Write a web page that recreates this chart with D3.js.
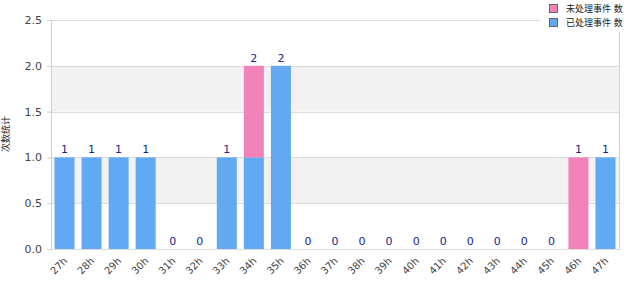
<!DOCTYPE html>
<html>
<head>
<meta charset="utf-8">
<script src="https://cdn.jsdelivr.net/npm/d3@7"></script>
<style>
  body { margin: 0; background: #fff; }
  text { font-family: "DejaVu Sans", "Noto Sans CJK SC", sans-serif; }
</style>
</head>
<body>
<svg id="chart"></svg>
<script>
// data
var categories = ["27h","28h","29h","30h","31h","32h","33h","34h","35h","36h","37h",
                  "38h","39h","40h","41h","42h","43h","44h","45h","46h","47h"];
var blueValues = [1,1,1,1,0,0,1,1,2,0,0,0,0,0,0,0,0,0,0,0,1];
var pinkValues = [0,0,0,0,0,0,0,1,0,0,0,0,0,0,0,0,0,0,0,1,0];
var yTicks = [0, 0.5, 1, 1.5, 2, 2.5];
var seriesNames = ["已处理事件 数", "未处理事件 数"];

var width = 630, height = 300;
var plotLeft = 51, plotRight = 619, plotTop = 20, plotBottom = 249;
var blue = "#62a9f4", pink = "#f283ba";

var svg = d3.select("#chart").attr("width", width).attr("height", height);

var x = d3.scaleBand().domain(categories).range([plotLeft, plotRight]).paddingInner(0.26).paddingOuter(0.13);
var y = d3.scaleLinear().domain([0, 2.5]).range([plotBottom, plotTop]);

// alternating bands
for (var i = 0; i < yTicks.length - 1; i++) {
  if (i % 2 == 1) {
    svg.append("rect")
       .attr("x", plotLeft).attr("width", plotRight - plotLeft)
       .attr("y", y(yTicks[i + 1])).attr("height", y(yTicks[i]) - y(yTicks[i + 1]))
       .attr("fill", "#f2f2f2");
  }
}

// grid lines
svg.append("g").selectAll("line").data(yTicks).enter().append("line")
   .attr("x1", plotLeft).attr("x2", plotRight)
   .attr("y1", function(d){ return Math.round(y(d)) + 0.5; })
   .attr("y2", function(d){ return Math.round(y(d)) + 0.5; })
   .attr("stroke", "#dcdcdc");

// frame
svg.append("line").attr("x1", plotLeft + 0.5).attr("x2", plotLeft + 0.5).attr("y1", plotTop).attr("y2", plotBottom + 1).attr("stroke", "#d0d0d0");
svg.append("line").attr("x1", plotRight + 0.5).attr("x2", plotRight + 0.5).attr("y1", plotTop).attr("y2", plotBottom + 1).attr("stroke", "#d0d0d0");

// y axis
var yAxis = d3.axisLeft(y).tickValues(yTicks).tickSize(4).tickFormat(d3.format(".1f"));
var ya = svg.append("g").attr("transform", "translate(" + plotLeft + ",0)").call(yAxis);
ya.select(".domain").remove();
ya.selectAll("line").attr("stroke", "#d0d0d0");
ya.selectAll("text").attr("fill", "#444").style("font-size", "11px").attr("x", -9);

// x axis
var xAxis = d3.axisBottom(x).tickSize(0);
var xa = svg.append("g").attr("transform", "translate(0," + plotBottom + ")").call(xAxis);
xa.select(".domain").remove();
xa.selectAll("text")
  .attr("fill", "#444").style("font-size", "10px")
  .attr("text-anchor", "end")
  .attr("dy", "0.35em")
  .attr("transform", "translate(1,10) rotate(-45)")
  .attr("y", 0).attr("x", 0);

// stacked bars
var rows = categories.map(function(c, i){ return { cat: c, blue: blueValues[i], pink: pinkValues[i] }; });
var stack = d3.stack().keys(["blue", "pink"])(rows);
var colors = { blue: blue, pink: pink };

svg.append("g").selectAll("g").data(stack).enter().append("g")
   .attr("fill", function(s){ return colors[s.key]; })
   .selectAll("rect").data(function(s){ return s; }).enter().append("rect")
   .attr("x", function(d){ return x(d.data.cat); })
   .attr("width", x.bandwidth())
   .attr("y", function(d){ return y(d[1]); })
   .attr("height", function(d){ return y(d[0]) - y(d[1]); });

// total labels
svg.append("g").selectAll("text").data(rows).enter().append("text")
   .attr("x", function(d){ return x(d.cat) + x.bandwidth() / 2; })
   .attr("y", function(d){ return y(d.blue + d.pink) - 4; })
   .attr("text-anchor", "middle")
   .attr("fill", "#1c1c8c")
   .style("font-size", "11px")
   .text(function(d){ return d.blue + d.pink; });

// y title
svg.append("text")
   .attr("transform", "translate(6," + 134 + ") rotate(-90)")
   .attr("text-anchor", "middle")
   .attr("dy", "0.35em")
   .attr("fill", "#222")
   .style("font-size", "9px")
   .text("次数统计");

// legend
var legend = svg.append("g").attr("transform", "translate(540,0)");
legend.append("rect").attr("x", 0).attr("y", 0).attr("width", 90).attr("height", 32).attr("fill", "#fff");
var legendItems = [{ name: seriesNames[1], color: pink }, { name: seriesNames[0], color: blue }];
var li = legend.selectAll("g.item").data(legendItems).enter().append("g")
   .attr("class", "item")
   .attr("transform", function(d, i){ return "translate(0," + (i * 14) + ")"; });
li.append("rect").attr("x", 9.5).attr("y", 4.5).attr("width", 8).attr("height", 8)
  .attr("fill", function(d){ return d.color; }).attr("stroke", "#666");
li.append("text").attr("x", 26).attr("y", 9).attr("dy", "0.35em")
  .attr("fill", "#222").style("font-size", "9px")
  .text(function(d){ return d.name; });
</script>
</body>
</html>
